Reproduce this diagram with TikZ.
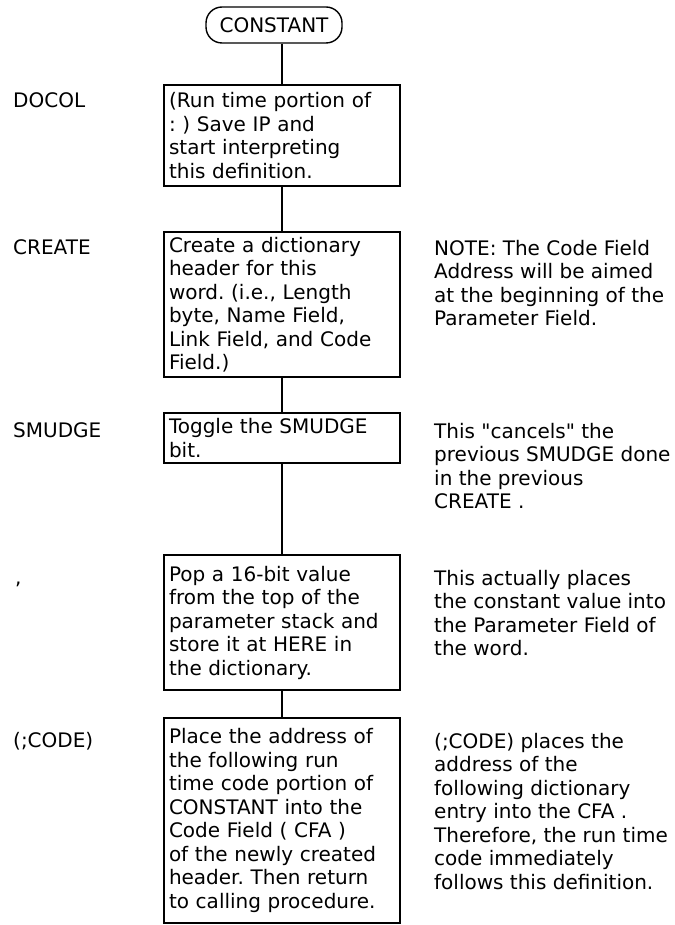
\documentclass[tikz,border=0pt]{standalone}
\usepackage{fontspec}
\setmainfont{DejaVu Sans}
\frenchspacing

\begin{document}
\begin{tikzpicture}[
    x=1pt, y=-1pt,
    every node/.style={font=\fontsize{20pt}{23.5pt}\selectfont},
    stepbox/.style={
        rectangle,
        draw,
        line width=1.4pt,
        text width=226pt,
        inner xsep=5pt,
        inner ysep=0pt,
        align=left
    },
    terminal/.style={
        rectangle,
        draw,
        line width=1.4pt,
        rounded corners=16pt,
        minimum width=136pt,
        minimum height=36pt
    },
    tag/.style={
        anchor=base west,
        inner sep=0pt
    },
    note/.style={
        anchor=north west,
        inner sep=0pt,
        align=left
    },
    link/.style={line width=1.4pt}
]
    \useasboundingbox (0,0) rectangle (674,925);

    % column of steps
    \node[terminal] (term) at (274,25) {CONSTANT};
    \node[stepbox, minimum height=101pt] (docol) at (282,135.5) {
        (Run time portion of\\
        : ) Save IP and\\
        start interpreting\\
        this definition.
    };
    \node[stepbox, minimum height=145pt] (create) at (282,304.5) {
        Create a dictionary\\
        header for this\\
        word. (i.e., Length\\
        byte, Name Field,\\
        Link Field, and Code\\
        Field.)
    };
    \node[stepbox, minimum height=50pt] (smudge) at (282,438) {
        Toggle the SMUDGE\\
        bit.
    };
    \node[stepbox, minimum height=135pt] (comma) at (282,622.5) {
        Pop a 16-bit value\\
        from the top of the\\
        parameter stack and\\
        store it at HERE in\\
        the dictionary.
    };
    \node[stepbox, minimum height=205pt] (code) at (282,820.5) {
        Place the address of\\
        the following run\\
        time code portion of\\
        CONSTANT into the\\
        Code Field ( CFA )\\
        of the newly created\\
        header. Then return\\
        to calling procedure.
    };

    % word names
    \node[tag] (tdocol) at (13,108) {DOCOL};
    \node[tag] (tcreate) at (13,254) {CREATE};
    \node[tag] (tsmudge) at (13,437) {SMUDGE};
    \node[tag] (tcomma) at (15,584) {,};
    \node[tag] (tcode) at (13,747) {(;CODE)};

    % notes
    \node[note] (ncreate) at (434,240) {
        NOTE: The Code Field\\
        Address will be aimed\\
        at the beginning of the\\
        Parameter Field.
    };
    \node[note] (nsmudge) at (434,423) {
        This \textquotedbl cancels\textquotedbl{} the\\
        previous SMUDGE done\\
        in the previous\\
        CREATE .
    };
    \node[note] (ncomma) at (434,570) {
        This actually places\\
        the constant value into\\
        the Parameter Field of\\
        the word.
    };
    \node[note] (ncode) at (434,733) {
        (;CODE) places the\\
        address of the\\
        following dictionary\\
        entry into the CFA .\\
        Therefore, the run time\\
        code immediately\\
        follows this definition.
    };

    \draw[link] (term.south -| docol.north) -- (docol);
    \draw[link] (docol) -- (create);
    \draw[link] (create) -- (smudge);
    \draw[link] (smudge) -- (comma);
    \draw[link] (comma) -- (code);
\end{tikzpicture}
\end{document}
